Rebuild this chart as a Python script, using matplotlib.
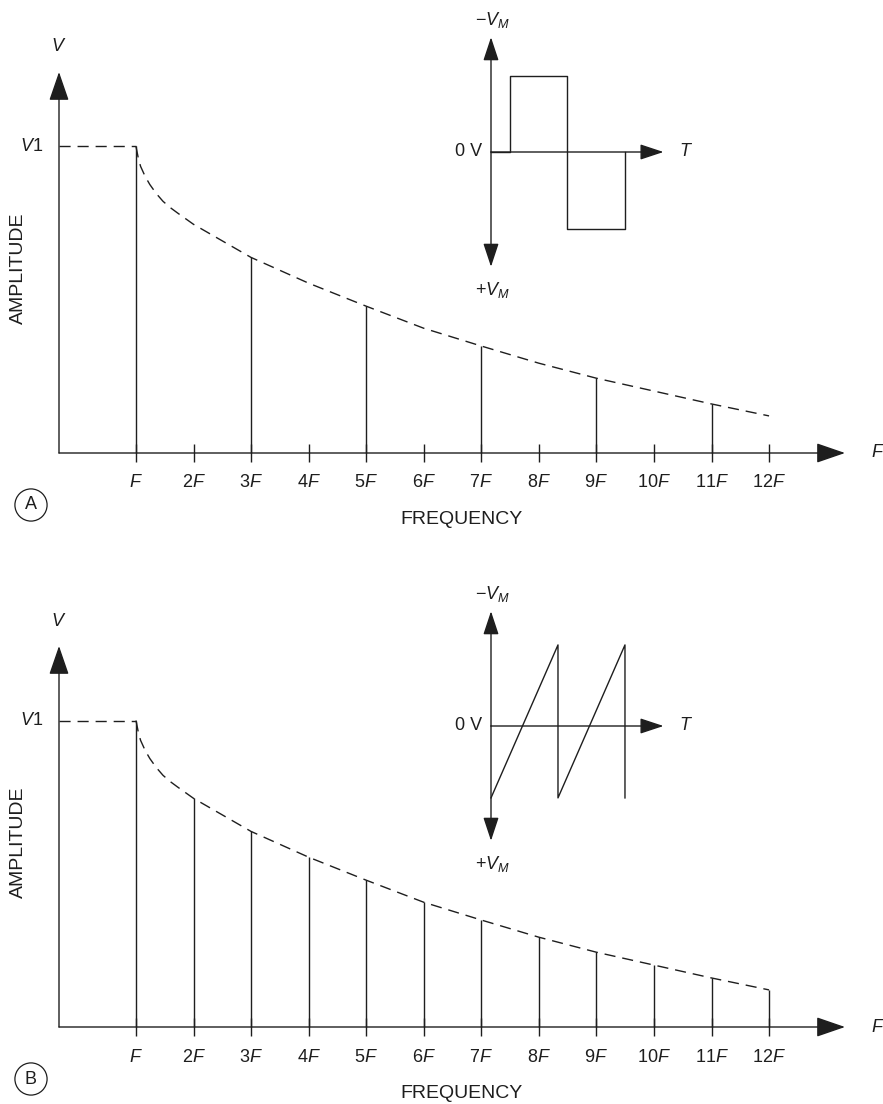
import numpy as np
import matplotlib
matplotlib.use("Agg")
import matplotlib.pyplot as plt

plt.rcParams['font.family'] = ['Liberation Sans', 'DejaVu Sans']
plt.rcParams['mathtext.fontset'] = 'custom'
plt.rcParams['mathtext.rm'] = 'Liberation Sans'
plt.rcParams['mathtext.it'] = 'Liberation Sans:italic'

# harmonic spectrum (amplitude relative to V1)
harmonics = [1, 2, 3, 4, 5, 6, 7, 8, 9, 10, 11, 12]
amp_saw = [1.0, 0.746, 0.638, 0.554, 0.479, 0.407, 0.349, 0.293, 0.244, 0.202, 0.160, 0.121]
odd_harmonics = [1, 3, 5, 7, 9, 11]
amp_square = [1.0, 0.638, 0.479, 0.349, 0.244, 0.160]
tick_labels = ['$F$', '2$F$', '3$F$', '4$F$', '5$F$', '6$F$', '7$F$', '8$F$',
               '9$F$', '10$F$', '11$F$', '12$F$']

# dashed envelope
env_n = [1.0, 1.04, 1.08, 1.16, 1.24, 1.35, 1.47, 1.6, 1.73, 2, 3, 4, 5, 6, 7, 8, 9, 10, 11, 12]
env_h = [1.0, 0.962, 0.935, 0.902, 0.876, 0.847, 0.821, 0.800, 0.782, 0.746, 0.638,
         0.554, 0.479, 0.407, 0.349, 0.293, 0.244, 0.202, 0.160, 0.121]

# inset waveforms (time in half-periods of square wave, voltage in VM)
sq_t = [0, 0.33, 0.33, 1.32, 1.32, 2.33, 2.33]
sq_v = [0, 0, 1, 1, -1, -1, 0]
saw_t = [0, 1.165, 1.165, 2.33, 2.33]
saw_v = [-0.94, 1.06, -0.94, 1.06, -0.94]

W, H = 883, 1104
INK = '#1e1e1e'
FS = 13
FS_BIG = 14

fig = plt.figure(figsize=(W / 100, H / 100), dpi=100)


def rect(left, right, top, bottom):
    return [left / W, 1 - bottom / H, (right - left) / W, (bottom - top) / H]


def arrow(ax, start, tip, hl, hw):
    ax.annotate('', xy=tip, xytext=start, annotation_clip=False,
                arrowprops=dict(arrowstyle='-|>,head_length=%s,head_width=%s' % (hl, hw),
                                color=INK, lw=1.0, mutation_scale=10,
                                shrinkA=0, shrinkB=0))


def panel(dy, n_vals, a_vals, wave_t, wave_v, letter):
    base = 453 + dy
    xs = 57.55
    ys = 306.5
    x0 = 1 + (59 - 136) / xs
    x1 = 1 + (845 - 136) / xs
    ax = fig.add_axes(rect(59, 845, 72 + dy, base + 10))
    ax.set_xlim(x0, x1)
    ax.set_ylim(-10 / ys, (453 - 72) / ys)
    ax.axis('off')

    arrow(ax, (x0, 0), (x0, (453 - 72) / ys), 1.8, 0.62)
    arrow(ax, (x0, 0), (x1, 0), 1.8, 0.62)

    ax.vlines(harmonics, -9 / ys, 9 / ys, color=INK, lw=1.0)
    ax.vlines(n_vals, 0, a_vals, color=INK, lw=1.0)
    ax.plot(env_n, env_h, color=INK, lw=1.0, ls=(0, (8, 5)))
    ax.plot([x0, 1], [1, 1], color=INK, lw=1.0, ls=(0, (8, 5)))

    for n, lab in zip(harmonics, tick_labels):
        ax.text(n, -30 / ys, lab, ha='center', va='center', fontsize=FS, color=INK)
    ax.text(x0, (453 - 47) / ys, '$V$', ha='center', va='center', fontsize=FS, color=INK)
    ax.text(x0 - 16 / xs, 1, '$V$1', ha='right', va='center', fontsize=FS, color=INK)
    ax.text(1 + (871 - 136) / xs, 0, '$F$', ha='left', va='center', fontsize=FS,
            color=INK, clip_on=False)
    ax.text(1 + (461 - 136) / xs, -67 / ys, 'FREQUENCY', ha='center', va='center',
            fontsize=FS_BIG, color=INK)
    ax.text(1 + (18 - 136) / xs, (453 - 268) / ys, 'AMPLITUDE', ha='center',
            va='center', rotation=90, fontsize=FS_BIG, color=INK)
    ax.text(1 + (31 - 136) / xs, -52 / ys, letter, ha='center', va='center',
            fontsize=FS, color=INK,
            bbox=dict(boxstyle='circle,pad=0.42', fc='none', ec=INK, lw=0.9))

    # inset waveform
    o = 152 + dy
    ts = 57.5
    vs = 76.5
    ia = fig.add_axes(rect(491, 491 + 3 * ts, o - 1.5 * vs, o + 1.5 * vs))
    ia.set_xlim(0, 3)
    ia.set_ylim(-1.5, 1.5)
    ia.axis('off')
    arrow(ia, (0, 0), (0, 1.5), 1.45, 0.48)
    arrow(ia, (0, 0), (0, -1.5), 1.45, 0.48)
    arrow(ia, (0, 0), (3, 0), 1.45, 0.48)
    ia.plot(wave_t, wave_v, color=INK, lw=1.0, clip_on=False)
    ia.text(-9 / ts, 0, '0 V', ha='right', va='center', fontsize=FS, color=INK)
    ia.text(3.4, 0, '$T$', ha='center', va='center', fontsize=FS, color=INK)
    ia.text(0.02, 1.72, '$-V_M$', ha='center', va='center', fontsize=FS, color=INK)
    ia.text(0.02, -1.8, '$+V_M$', ha='center', va='center', fontsize=FS, color=INK)


panel(0, odd_harmonics, amp_square, sq_t, sq_v, 'A')
panel(574, harmonics, amp_saw, saw_t, saw_v, 'B')

fig.savefig('out.png', dpi=100)
